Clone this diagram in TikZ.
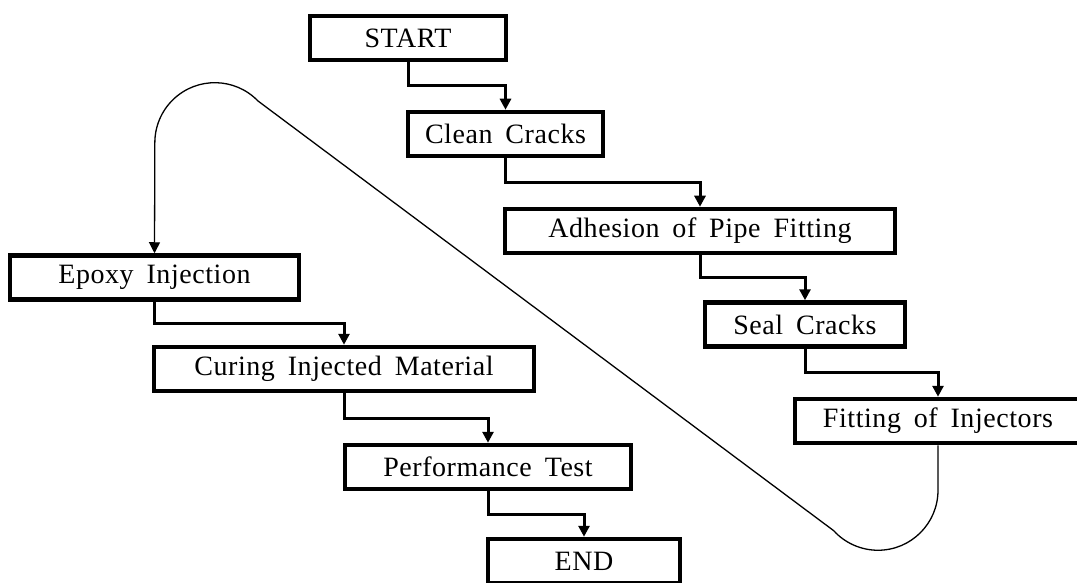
\documentclass[tikz,border=0pt]{standalone}
\usepackage{fontspec}
\setmainfont{Liberation Serif}[LetterSpace=2,WordSpace=1.7]
\usetikzlibrary{arrows.meta,calc}

\tikzset{
  box/.style={draw=black, line width=4.5pt, fill=white, inner sep=0pt,
    minimum height=44pt, font=\fontsize{28}{32}\selectfont},
  flow/.style={draw=black, line width=3pt,
    -{Triangle[width=11pt,length=11pt]}},
  loopline/.style={draw=black, line width=1.3pt,
    -{Triangle[width=11pt,length=11pt]}}
}

\begin{document}
\begin{tikzpicture}[x=1pt,y=-1pt]
  \useasboundingbox (0,0) rectangle (1077,583);

  % right-hand column of steps
  \node[box, minimum width=196pt] (start)    at (408,38)    {START};
  \node[box, minimum width=195pt] (clean)    at (505.5,134) {Clean Cracks};
  \node[box, minimum width=390pt] (adhesion) at (700,231)   {Adhesion of Pipe Fitting};
  \node[box, minimum width=200pt] (seal)     at (805,324.5) {Seal Cracks};
  \node[box, minimum width=286pt] (fitting)  at (938,421)   {Fitting of Injectors};

  % left-hand column of steps
  \node[box, minimum width=289pt] (epoxy)    at (154.5,277.5) {Epoxy Injection};
  \node[box, minimum width=380pt] (curing)   at (344,369)   {Curing Injected Material};
  \node[box, minimum width=286pt] (perf)     at (488,467)   {Performance Test};
  \node[box, minimum width=192pt] (end)      at (584,561)   {END};

  % stepped connectors between consecutive boxes
  \foreach \a/\b in {start/clean, clean/adhesion, adhesion/seal, seal/fitting,
                     epoxy/curing, curing/perf, perf/end}{
    \draw[flow] (\a.south) |- ($(\a.south)!.5!(\b.north)$) -| (\b.north);
  }

  % long return loop from the last right-hand step to the first left-hand step
  \coordinate (turn) at (258,101);
  \draw[loopline] (fitting.south) -- ++(0,45)
    arc[start angle=0, end angle=137.7, radius=60]
    -- (turn)
    arc[start angle=-44, end angle=-180, radius=60]
    -- (epoxy.north);
\end{tikzpicture}
\end{document}
